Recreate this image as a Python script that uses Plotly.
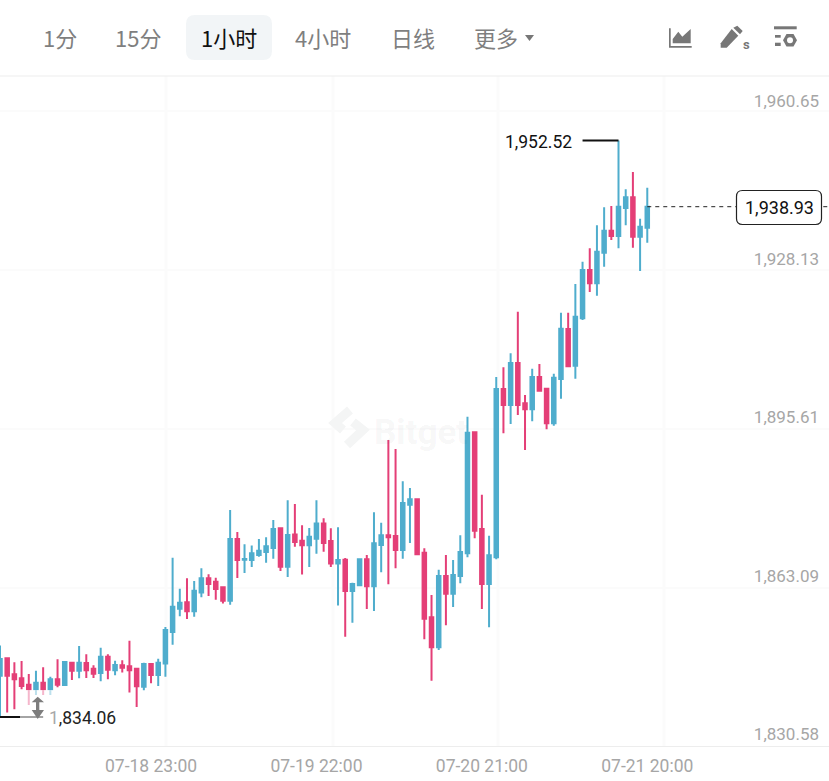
import pandas as pd
import plotly.graph_objects as go

WIDTH, HEIGHT = 829, 781
TEAL = "#4FADCD"
PINK = "#E43F77"
GREY_TEXT = "#A6A6A6"
TAB_GREY = "#7F7F7F"
ICON_GREY = "#777777"
GRID = "#FBFBFB"
CJK = "Noto Sans CJK SC"
LATIN = "Roboto"

# Hourly ETH candles
opens = [1842.56, 1846.12, 1842.83, 1842.01, 1840.71, 1839.75, 1841.12, 1839.75, 1841.81, 1840.64,
         1845.23, 1843.59, 1845.16, 1844.00, 1843.11, 1846.46, 1843.66, 1844.68, 1844.48, 1844.00,
         1840.30, 1844.96, 1842.70, 1845.03, 1851.53, 1856.33, 1857.63, 1855.78, 1859.62, 1862.56,
         1861.88, 1860.71, 1857.97, 1870.65, 1866.40, 1866.33, 1867.36, 1867.97, 1868.80, 1872.84,
         1864.96, 1871.54, 1870.30, 1869.34, 1870.71, 1873.80, 1870.23, 1865.58, 1866.40, 1859.96,
         1861.12, 1866.47, 1860.92, 1869.41, 1871.40, 1871.26, 1868.38, 1877.70, 1878.80, 1867.84,
         1854.55, 1848.38, 1863.04, 1859.41, 1863.04, 1867.69, 1892.56, 1872.70, 1861.39, 1866.87,
         1901.47, 1898.18, 1906.81, 1898.52, 1897.29, 1903.93, 1901.53, 1894.41, 1903.52, 1913.80,
         1906.26, 1915.99, 1925.92, 1923.18, 1929.49, 1934.01, 1932.91, 1938.67, 1940.86, 1932.77,
         1934.62]
highs = [1848.73, 1846.12, 1845.30, 1845.57, 1842.90, 1843.59, 1844.27, 1842.35, 1845.92, 1845.37,
         1845.23, 1848.66, 1846.94, 1844.68, 1848.31, 1846.94, 1845.64, 1845.71, 1849.75, 1844.00,
         1845.23, 1845.16, 1846.05, 1852.56, 1866.81, 1860.44, 1862.56, 1862.01, 1864.62, 1863.38,
         1862.70, 1860.71, 1876.60, 1872.08, 1869.55, 1869.28, 1870.65, 1870.99, 1874.55, 1872.97,
         1878.59, 1877.84, 1873.45, 1872.91, 1878.59, 1874.89, 1872.84, 1873.04, 1866.74, 1861.67,
         1866.47, 1867.36, 1876.13, 1874.00, 1890.99, 1889.14, 1882.50, 1881.13, 1879.00, 1868.73,
         1859.14, 1864.34, 1867.36, 1866.33, 1871.40, 1895.78, 1892.70, 1879.75, 1871.33, 1903.93,
         1905.92, 1908.79, 1917.36, 1900.23, 1905.64, 1906.60, 1901.53, 1904.62, 1917.15, 1917.15,
         1923.05, 1927.64, 1930.38, 1935.10, 1938.80, 1939.08, 1952.52, 1942.50, 1946.06, 1936.47,
         1942.84]
lows = [1834.06, 1834.96, 1835.64, 1839.75, 1836.53, 1838.59, 1838.59, 1838.59, 1840.16, 1840.51,
        1841.67, 1842.01, 1842.08, 1842.08, 1841.40, 1841.81, 1842.63, 1843.18, 1839.07, 1836.12,
        1839.55, 1840.98, 1840.44, 1842.35, 1848.93, 1854.75, 1854.21, 1854.68, 1858.66, 1858.93,
        1858.18, 1857.36, 1857.15, 1862.63, 1863.66, 1864.89, 1867.01, 1865.78, 1866.60, 1864.07,
        1862.84, 1869.07, 1863.32, 1864.89, 1867.63, 1868.04, 1864.89, 1856.95, 1850.57, 1853.45,
        1861.12, 1856.26, 1855.85, 1863.80, 1861.33, 1864.62, 1866.60, 1869.82, 1867.29, 1850.03,
        1841.53, 1847.83, 1852.90, 1856.67, 1861.53, 1866.87, 1870.78, 1856.26, 1852.49, 1866.46,
        1892.35, 1894.27, 1896.12, 1888.93, 1894.82, 1900.92, 1893.18, 1893.93, 1899.48, 1905.99,
        1903.59, 1915.65, 1921.40, 1920.65, 1926.61, 1932.09, 1930.38, 1935.10, 1930.51, 1925.72,
        1931.54]
closes = [1845.98, 1842.56, 1841.81, 1840.44, 1839.75, 1841.12, 1839.75, 1841.81, 1840.71, 1845.37,
          1843.59, 1845.23, 1843.66, 1842.97, 1846.46, 1843.79, 1844.75, 1844.20, 1843.66, 1840.37,
          1844.96, 1842.70, 1845.23, 1851.94, 1856.74, 1857.56, 1855.78, 1860.03, 1862.56, 1861.40,
          1860.37, 1857.97, 1870.65, 1866.33, 1866.54, 1867.70, 1868.25, 1869.14, 1872.70, 1864.96,
          1871.47, 1870.03, 1869.34, 1871.12, 1873.80, 1869.82, 1865.58, 1866.33, 1859.96, 1861.40,
          1866.47, 1860.92, 1869.75, 1871.40, 1870.99, 1868.38, 1878.04, 1878.80, 1867.49, 1854.27,
          1848.38, 1863.04, 1859.41, 1863.25, 1867.97, 1892.49, 1872.35, 1861.39, 1867.28, 1901.47,
          1898.18, 1906.81, 1898.18, 1897.29, 1903.93, 1901.12, 1894.41, 1903.79, 1913.86, 1906.12,
          1916.33, 1925.92, 1923.18, 1929.69, 1934.01, 1932.91, 1938.94, 1940.86, 1932.77, 1934.83,
          1938.93]
times = pd.date_range("2023-07-18 02:00", periods=len(opens), freq="h")

# Axis furniture
price_ticks = [1960.65, 1928.13, 1895.61, 1863.09, 1830.58]
time_ticks = ["2023-07-18 23:00", "2023-07-19 22:00", "2023-07-20 21:00", "2023-07-21 20:00"]
grid_prices = [1958.60, 1925.92, 1893.25, 1860.57]
grid_times = ["2023-07-19 01:05", "2023-07-20 00:18", "2023-07-20 23:15", "2023-07-21 22:20"]
time_range = ["2023-07-18 02:00", "2023-07-22 21:16"]
price_range = [1828.10, 1965.79]
tabs = [("1分", 60), ("15分", 138), ("1小时", 229), ("4小时", 323), ("日线", 413), ("更多", 496)]
ACTIVE_TAB = "1小时"


def px(x):
    return x / WIDTH


def py(y):
    return 1 - y / HEIGHT


def outline(points):
    """Closed SVG path in paper coordinates from screen-space points."""
    head, *rest = points
    parts = [f"M{px(head[0]):.5f},{py(head[1]):.5f}"]
    parts += [f"L{px(a):.5f},{py(b):.5f}" for a, b in rest]
    return " ".join(parts) + " Z"


def rounded(x0, y0, x1, y1, r):
    """Rounded rectangle path in paper coordinates."""
    rx, ry = r / WIDTH, r / HEIGHT
    a, b, c, d = px(x0), py(y0), px(x1), py(y1)
    return (f"M{a + rx:.5f},{b:.5f} L{c - rx:.5f},{b:.5f} Q{c:.5f},{b:.5f} {c:.5f},{b - ry:.5f} "
            f"L{c:.5f},{d + ry:.5f} Q{c:.5f},{d:.5f} {c - rx:.5f},{d:.5f} "
            f"L{a + rx:.5f},{d:.5f} Q{a:.5f},{d:.5f} {a:.5f},{d + ry:.5f} "
            f"L{a:.5f},{b - ry:.5f} Q{a:.5f},{b:.5f} {a + rx:.5f},{b:.5f} Z")


def filled(path, color, layer="above", opacity=1):
    return dict(type="path", xref="paper", yref="paper", path=path, fillcolor=color,
                line=dict(width=0), layer=layer, opacity=opacity)


def stroke(points, color, width, layer="below"):
    head, *rest = points
    path = f"M{px(head[0]):.5f},{py(head[1]):.5f} " + " ".join(f"L{px(a):.5f},{py(b):.5f}" for a, b in rest)
    return dict(type="path", xref="paper", yref="paper", path=path,
                line=dict(color=color, width=width), layer=layer)


def label(text, x, y, size, color, family=LATIN, anchor="center", weight="normal"):
    return dict(text=text, x=px(x), y=py(y), xref="paper", yref="paper", showarrow=False,
                xanchor=anchor, yanchor="middle", align=anchor,
                font=dict(family=family, size=size, color=color, weight=weight))


fig = go.Figure(go.Candlestick(
    x=times, open=opens, high=highs, low=lows, close=closes,
    increasing=dict(line=dict(color=TEAL, width=2), fillcolor=TEAL),
    decreasing=dict(line=dict(color=PINK, width=2), fillcolor=PINK),
    whiskerwidth=0, hoverinfo="skip",
))

shapes = []

# Background grid
for t in grid_times:
    shapes.append(dict(type="line", xref="x", yref="paper", x0=t, x1=t, y0=py(746), y1=py(76),
                       line=dict(color=GRID, width=3), layer="below"))
for p in grid_prices:
    shapes.append(dict(type="line", xref="paper", yref="y", x0=0, x1=1, y0=p, y1=p,
                       line=dict(color=GRID, width=2), layer="below"))

# Watermark arrow
shapes.append(stroke([(350, 410), (335, 423), (343, 430)], "#F4F5F5", 9))
shapes.append(stroke([(347, 445), (363, 430), (353, 422)], "#F4F5F5", 9))

# Header divider and selected tab
shapes.append(dict(type="line", xref="paper", yref="paper", x0=0, x1=1, y0=py(76), y1=py(76),
                   line=dict(color="#EDEDED", width=1), layer="below"))
shapes.append(filled(rounded(186, 15, 272, 60, 9), "#F2F5F7", layer="below"))
shapes.append(filled(outline([(525, 35), (534, 35), (529.5, 41)]), ICON_GREY))

# Header icons
shapes.append(filled(outline([(669, 28.3), (670.7, 28.3), (670.7, 46), (691.7, 46), (691.7, 47.7), (669, 47.7)]), ICON_GREY))
shapes.append(filled(outline([(672.7, 43.3), (672.7, 39), (678.3, 31.7), (682.3, 36.7), (690.7, 29), (690.7, 43.3)]), ICON_GREY))
shapes.append(filled(outline([(720.7, 43.3), (720.7, 47.7), (726.7, 47.7), (738.3, 35.7), (731.7, 29)]), ICON_GREY))
shapes.append(filled(outline([(733.3, 27.7), (737.3, 25.7), (742.7, 31), (740, 34.3)]), ICON_GREY))
shapes.append(filled(outline([(774, 26.3), (796.7, 26.3), (796.7, 29.3), (774, 29.3)]), ICON_GREY))
shapes.append(filled(outline([(775, 35), (780.7, 35), (780.7, 37.7), (775, 37.7)]), ICON_GREY))
shapes.append(filled(outline([(775, 42.7), (780.7, 42.7), (780.7, 46), (775, 46)]), ICON_GREY))
shapes.append(filled(outline([(783, 40.3), (786.5, 34), (793.5, 34), (797, 40.3), (793.5, 46.6), (786.5, 46.6)]), ICON_GREY))
shapes.append(dict(type="circle", xref="paper", yref="paper", x0=px(787), x1=px(793), y0=py(43.3), y1=py(37.3),
                   fillcolor="white", line=dict(width=0), layer="above"))

# Leader lines from the extreme candles to their price labels
shapes.append(dict(type="line", xref="x", yref="y", x0=times[86] - pd.Timedelta(hours=5), x1=times[86],
                   y0=highs[86], y1=highs[86], line=dict(color="#111111", width=2), layer="above"))
shapes.append(dict(type="line", xref="x", yref="y", x0=times[0], x1=times[0] + pd.Timedelta(hours=6),
                   y0=lows[0], y1=lows[0], line=dict(color="#111111", width=2), layer="above"))

# Position handle sitting over the low marker
shapes.append(filled(rounded(20, 690, 55, 728, 4), "white", opacity=0.62))
shapes.append(filled(outline([(37.7, 696.7), (44, 702.3), (39.3, 702.3), (39.3, 710), (44, 710), (37.7, 719),
                              (31.7, 710), (36, 710), (36, 702.3), (31.7, 702.3)]), "#7D7D7D"))

# Last-price marker
shapes.append(dict(type="line", xref="x", yref="y", x0=times[-1], x1=time_range[1], y0=closes[-1], y1=closes[-1],
                   line=dict(color="#222222", width=1, dash="4px,4px"), layer="above"))
shapes.append(dict(type="path", xref="paper", yref="paper", path=rounded(736.5, 190.5, 821.5, 224.5, 6),
                   fillcolor="white", line=dict(color="#222222", width=1.2), layer="above"))

low_text = f"{lows[0]:,.2f}"
annotations = [label(name, x, 37, 22, "#111111" if name == ACTIVE_TAB else TAB_GREY, family=CJK) for name, x in tabs]
annotations += [
    label("s", 741, 44, 13, ICON_GREY, weight="bold", anchor="left"),
    label("Bitget", 372, 432, 35, "rgba(40,50,60,0.05)", weight="bold", anchor="left"),
    label(f"{highs[86]:,.2f}", 574, 142, 17.5, "#111111", anchor="right"),
    label(f'<span style="color:#A8A8A8">{low_text[0]}</span>{low_text[1:]}', 47, 718, 17.5, "#222222", anchor="left"),
    label(f"{closes[-1]:,.2f}", 779, 208, 18, "#111111"),
]

fig.update_layout(
    width=WIDTH, height=HEIGHT,
    margin=dict(l=0, r=0, t=0, b=0),
    paper_bgcolor="white", plot_bgcolor="white",
    showlegend=False, dragmode=False, boxgap=0.3,
    shapes=shapes, annotations=annotations,
    xaxis=dict(
        type="date", range=time_range, domain=[0, 1], rangeslider=dict(visible=False),
        tickmode="array", tickvals=time_ticks, tickformat="%m-%d %H:%M",
        showgrid=False, zeroline=False, ticks="outside", ticklen=4, tickcolor="rgba(0,0,0,0)",
        showline=True, linecolor="#EDEDED", linewidth=1,
        tickfont=dict(family=LATIN, size=17.5, color=GREY_TEXT),
    ),
    yaxis=dict(
        range=price_range, domain=[1 - 746 / HEIGHT, 1 - 76 / HEIGHT], side="right",
        ticklabelposition="inside", tickmode="array", tickvals=price_ticks, tickformat=",.2f",
        showgrid=False, zeroline=False, showline=False, ticks="", ticklabelstandoff=7,
        tickfont=dict(family=LATIN, size=17, color=GREY_TEXT),
    ),
)

fig.write_html("out.html", config=dict(displayModeBar=False, responsive=False))
